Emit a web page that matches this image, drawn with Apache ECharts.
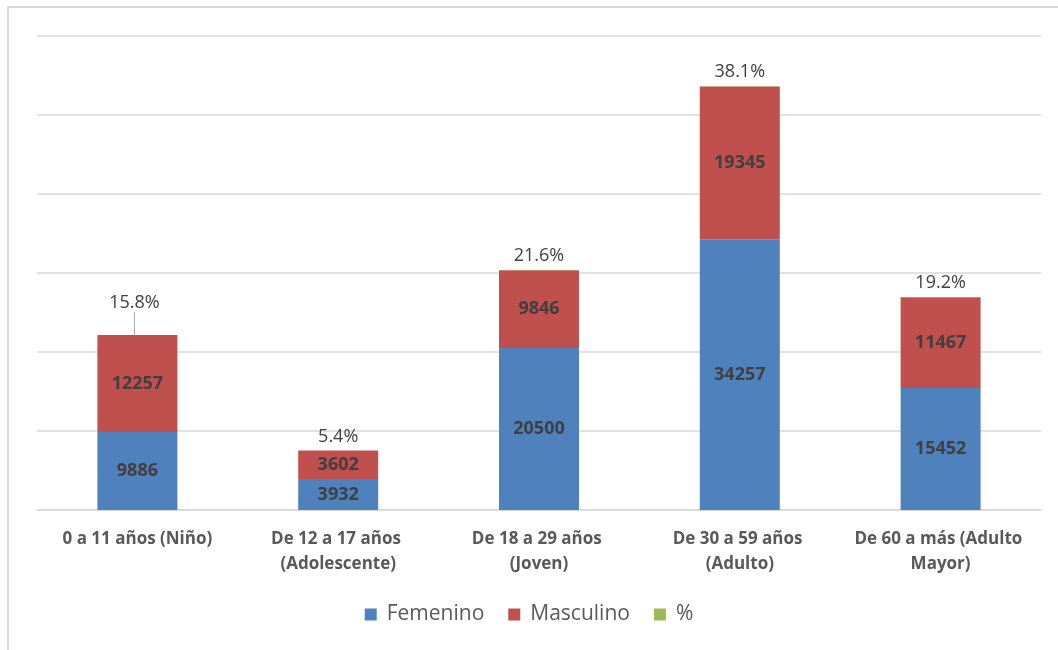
<!DOCTYPE html>
<html><head><meta charset="utf-8">
<script src="https://cdn.jsdelivr.net/npm/echarts@6/dist/echarts.min.js"></script>
<style>html,body{margin:0;padding:0;background:#fff}#c{width:1058px;height:650px}</style>
</head><body><div id="c"></div>
<script>
const categories = ['0 a 11 años (Niño)', 'De 12 a 17 años (Adolescente)', 'De 18 a 29 años (Joven)', 'De 30 a 59 años (Adulto)', 'De 60 a más (Adulto Mayor)'];
const femenino = [9886, 3932, 20500, 34257, 15452];
const masculino = [12257, 3602, 9846, 19345, 11467];
const porcentaje = [15.8, 5.4, 21.6, 38.1, 19.2];

const font = 'Open Sans, Noto Sans, sans-serif';
const chart = echarts.init(document.getElementById('c'));
chart.setOption({
  animation: false,
  textStyle: {fontFamily: font},
  graphic: [{type: 'rect', shape: {x: 8, y: 7, width: 1200, height: 800}, style: {fill: 'none', stroke: '#D9D9D9', lineWidth: 2}, silent: true}],
  grid: {left: 37, right: 17, top: 36, bottom: 140},
  legend: {
    bottom: 20, left: 'center', itemWidth: 12, itemHeight: 12, itemGap: 24,
    icon: 'rect',
    textStyle: {fontSize: 21, color: '#595959', fontFamily: font, padding: [0, 0, 0, 5]},
    data: ['Femenino', 'Masculino', '%']
  },
  xAxis: {
    type: 'category', data: categories,
    axisLine: {lineStyle: {color: '#D9D9D9', width: 1.5}},
    axisTick: {show: false},
    axisLabel: {color: '#595959', fontWeight: 'bold', fontSize: 17, margin: 17, lineHeight: 25, width: 185, overflow: 'break', interval: 0}
  },
  yAxis: {
    type: 'value', min: 0, max: 60000, interval: 10000,
    axisLabel: {show: false}, axisLine: {show: false}, axisTick: {show: false},
    splitLine: {lineStyle: {color: '#D9D9D9', width: 1.5}}
  },
  series: [
    {name: 'Femenino', type: 'bar', stack: 't', data: femenino, barWidth: 80,
     itemStyle: {color: '#4F81BD'},
     label: {show: true, position: 'inside', color: '#404040', fontWeight: 'bold', fontSize: 18}},
    {name: 'Masculino', type: 'bar', stack: 't', data: masculino, barWidth: 80,
     itemStyle: {color: '#C0504D'},
     label: {show: true, position: 'inside', color: '#404040', fontWeight: 'bold', fontSize: 18}},
    {name: '%', type: 'bar', stack: 't', barWidth: 80,
     data: porcentaje.map((v, i) => i === 0 ? {value: v, labelLine: {show: true}} : v),
     itemStyle: {color: '#9BBB59'},
     label: {show: true, position: 'top', distance: 5, color: '#404040', fontSize: 18,
             formatter: p => p.value.toFixed(1) + '%'},
     labelLine: {show: false, lineStyle: {color: '#A6A6A6', width: 1}},
     labelLayout: p => p.dataIndex === 0 ? {dx: -3, dy: -18} : {}}
  ]
});
</script></body></html>
